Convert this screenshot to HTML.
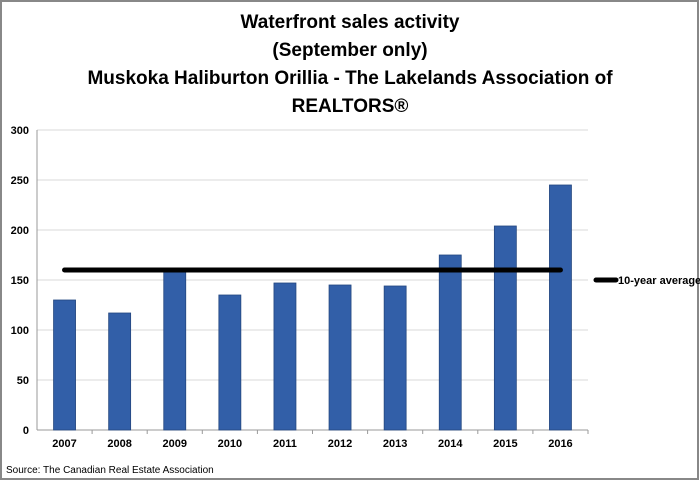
<!DOCTYPE html>
<html><head><meta charset="utf-8"><style>
body{margin:0;background:#fff;}
svg{display:block;font-family:"Liberation Sans",sans-serif;}
</style></head><body>
<svg id="c" width="700" height="480" xmlns="http://www.w3.org/2000/svg">
<rect x="1" y="1" width="697" height="478" fill="#fff" stroke="#888" stroke-width="2"/>
<g font-weight="bold" font-size="19" text-anchor="middle" fill="#000">
<text x="350" y="28">Waterfront sales activity</text>
<text x="350" y="56">(September only)</text>
<text x="350" y="84">Muskoka Haliburton Orillia - The Lakelands Association of</text>
<text x="350" y="112">REALTORS®</text>
</g>
<g id="grid"></g><g id="bars"></g><g id="axes"></g>
<line x1="596" y1="280" x2="616" y2="280" stroke="#000" stroke-width="5" stroke-linecap="round"/>
<text x="618" y="284" font-size="11" font-weight="bold">10-year average</text>
<text x="6" y="473" font-size="10">Source: The Canadian Real Estate Association</text>
</svg>
<script>
const categories=["2007","2008","2009","2010","2011","2012","2013","2014","2015","2016"];
const sales=[130,117,158,135,147,145,144,175,204,245];
const averageValue=160;
const yTicks=[0,50,100,150,200,250,300];
const NS="http://www.w3.org/2000/svg";
const x0=37,x1=588,yTop=130,yBot=430,yMax=300;
const bw=(x1-x0)/categories.length;
const y=v=>yBot-(v/yMax)*(yBot-yTop);
const xc=i=>x0+bw*(i+0.5);
function mk(t,a,p){const e=document.createElementNS(NS,t);for(const k in a)e.setAttribute(k,a[k]);p.appendChild(e);return e;}
const grid=document.getElementById('grid'),bars=document.getElementById('bars'),axes=document.getElementById('axes');
yTicks.forEach(v=>{
 const l=mk('line',{x1:x0,x2:x1,y1:y(v),y2:y(v),stroke:v===0?'#999':'#d9d9d9','stroke-width':1},grid);
 
 
 const t=mk('text',{x:x0-8,y:y(v)+4,'text-anchor':'end','font-size':11,'font-weight':'bold'},axes);
 t.textContent=v;
 
 
});
const ax=mk('line',{x1:x0,x2:x0,y1:yTop,y2:yBot,stroke:'#999'},axes);


categories.forEach((c,i)=>{
 const r=mk('rect',{x:xc(i)-11,y:y(sales[i]),width:22,height:yBot-y(sales[i]),fill:'#325fa8',stroke:'#24477f','stroke-width':0.8},bars);
 
 
 const tk=mk('line',{x1:x0+bw*(i+1),x2:x0+bw*(i+1),y1:yBot,y2:yBot+4,stroke:'#999'},axes);
 
 
 const t=mk('text',{x:xc(i),y:yBot+17,'text-anchor':'middle','font-size':11,'font-weight':'bold'},axes);
 t.textContent=c;
 
 
});
const avg=mk('line',{x1:xc(0),x2:xc(categories.length-1),y1:y(averageValue),y2:y(averageValue),stroke:'#000','stroke-width':5,'stroke-linecap':'round'},bars);


</script>
</body></html>
